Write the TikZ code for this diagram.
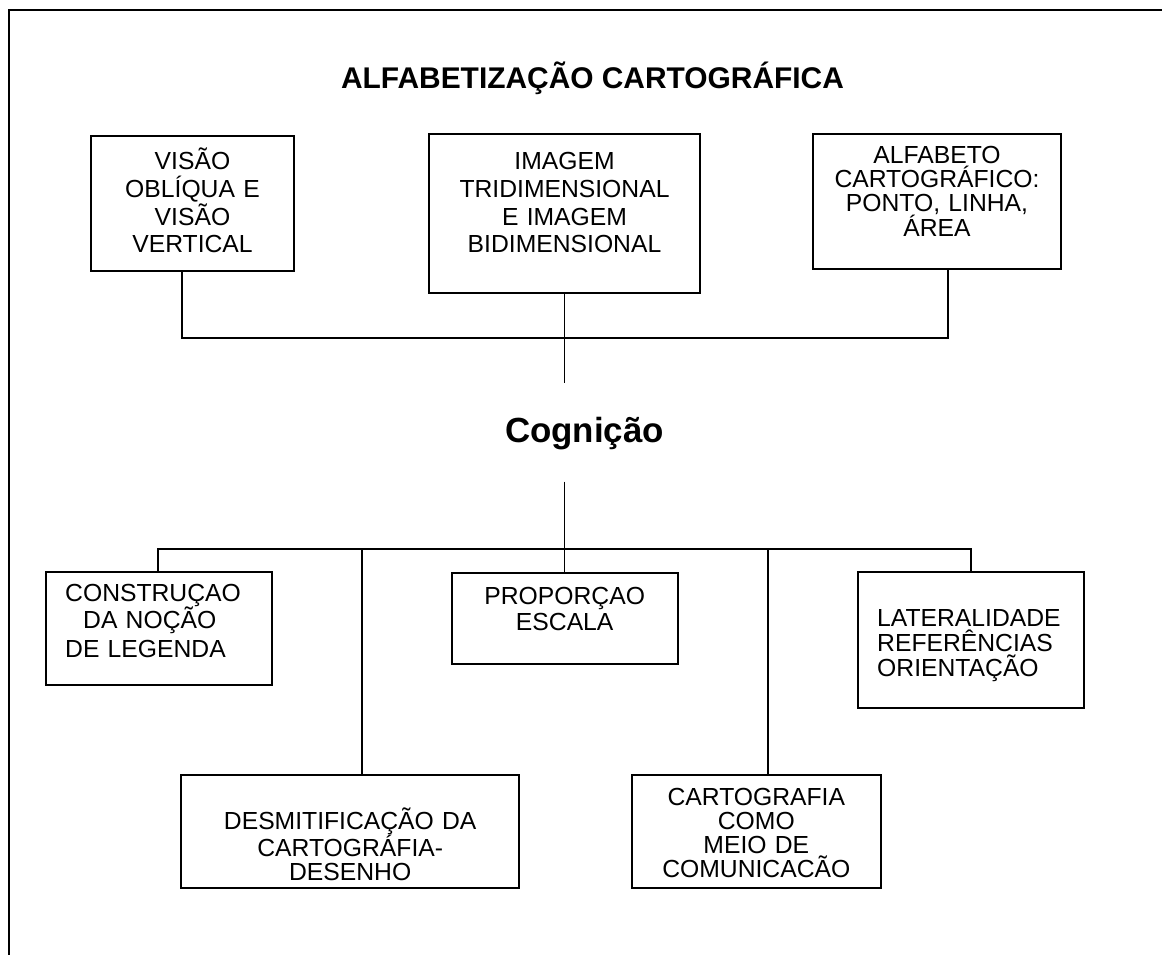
\documentclass[tikz,border=0pt]{standalone}
\usepackage{fontspec}
\setmainfont{Liberation Sans}
\begin{document}
\begin{tikzpicture}[x=1pt,y=-1pt,
  box/.style={draw, line width=1.8pt, inner sep=0pt},
  link/.style={line width=1.6pt},
  frame/.style={line width=2.2pt},
  ctxt/.style={inner sep=0pt, text width=340pt, align=center, anchor=base, font=\fontsize{24.7}{#1}\selectfont},
  ltxt/.style={inner sep=0pt, text width=220pt, align=left, anchor=base west, font=\fontsize{24.7}{#1}\selectfont},
]
\useasboundingbox (0,0) rectangle (1162,955);
\draw[frame] (9,955) -- (9,10) -- (1162,10);

% title
\node[inner sep=0pt, anchor=base, font=\fontsize{29.9}{30}\selectfont\bfseries] (title) at (592.5,88.3) {ALFABETIZAÇÃO CARTOGRÁFICA};

% top boxes
\node[box, minimum width=203pt, minimum height=135pt] (b1) at (192.5,203.5) {};
\node[ctxt=27.5pt] (t1) at (192.5,170) {VISÃO\\OBLÍQUA E\\VISÃO\\VERTICAL};
\node[box, minimum width=271pt, minimum height=159pt] (b2) at (564.5,213.5) {};
\node[ctxt=27.6pt] (t2) at (564.5,170) {IMAGEM\\TRIDIMENSIONAL\\E IMAGEM\\BIDIMENSIONAL};
\node[box, minimum width=248pt, minimum height=135pt] (b3) at (937,201.5) {};
\node[ctxt=24pt] (t3) at (937,163.3) {ALFABETO\\CARTOGRÁFICO:\\PONTO, LINHA,\\ÁREA};

% middle
\node[inner sep=0pt, anchor=base, font=\fontsize{34.9}{35}\selectfont\bfseries] (cog) at (584.5,442) {Cognição};
\coordinate (j1) at (182,337.7);
\coordinate (j3) at (948,337.7);
\coordinate (cogtop) at (564.5,383);
\coordinate (cogbot) at (564.5,481.7);

% bottom boxes
\node[box, minimum width=226pt, minimum height=113pt] (c1) at (158.7,628.5) {};
\node[ltxt=25pt] (tc1) at (65,601) {CONSTRUÇAO\\\hspace*{18pt}DA NOÇÃO\\[4pt]DE LEGENDA};
\node[box, minimum width=226pt, minimum height=91pt] (p) at (564.7,618.5) {};
\node[ctxt=26pt] (tp) at (564.7,604) {PROPORÇAO\\ESCALA};
\node[box, minimum width=226pt, minimum height=135.7pt] (c5) at (970.7,639.8) {};
\node[ltxt=25pt] (tc5) at (877,626.7) {LATERALIDADE\\REFERÊNCIAS\\ORIENTAÇÃO};
\node[box, minimum width=338.3pt, minimum height=112.7pt] (d1) at (350.2,831.3) {};
\node[ctxt=24pt] (td1) at (350.2,829) {DESMITIFICAÇÃO DA\\CARTOGRÁFIA-\\DESENHO};
\node[box, minimum width=248.7pt, minimum height=112.7pt] (d2) at (756.3,831.3) {};
\node[ctxt=24pt] (td2) at (756.3,805) {CARTOGRAFIA\\COMO\\MEIO DE\\COMUNICACÃO};

\coordinate (L1) at (158,549);
\coordinate (L2) at (362,549);
\coordinate (L3) at (564.5,549);
\coordinate (L4) at (767.7,549);
\coordinate (L5) at (971,549);

% connectors
\draw[link] (b1.south -| j1) -- (j1) -- (j3) -- (b3.south -| j3);
\draw[link] (b2.south) -- (cogtop);
\draw[link] (cogbot) -- (L3);
\draw[link] (c1.north -| L1) -- (L1) -- (L5) -- (c5.north -| L5);
\draw[link] (L2) -- (d1.north -| L2);
\draw[link] (L3) -- (p.north -| L3);
\draw[link] (L4) -- (d2.north -| L4);
\end{tikzpicture}
\end{document}
